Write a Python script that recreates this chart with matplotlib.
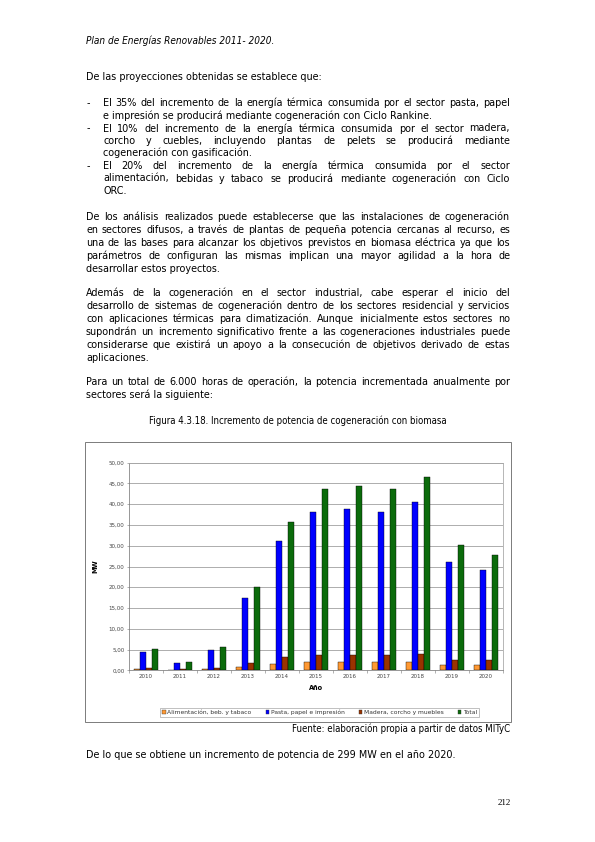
import matplotlib
matplotlib.use('Agg')
import matplotlib.pyplot as plt
from matplotlib.patches import Rectangle, Patch
import numpy as np

W, H = 595, 842

years = ['2010', '2011', '2012', '2013', '2014', '2015', '2016', '2017', '2018', '2019', '2020']
alimentacion = [0.2, 0.1, 0.2, 0.8, 1.5, 1.9, 1.9, 1.9, 2.0, 1.3, 1.2]
pasta = [4.4, 1.8, 4.9, 17.5, 31.2, 38.2, 38.9, 38.2, 40.6, 26.2, 24.2]
madera = [0.5, 0.2, 0.5, 1.8, 3.1, 3.7, 3.8, 3.7, 4.0, 2.6, 2.4]
total = [5.1, 2.1, 5.6, 20.1, 35.8, 43.7, 44.5, 43.7, 46.5, 30.1, 27.7]
series_names = ['Alimentación, beb. y tabaco', 'Pasta, papel e impresión',
                'Madera, corcho y muebles', 'Total']
series_colors = ['#FF9933', '#0000FF', '#993300', '#0B6B0B']

header = 'Plan de Energías Renovables 2011- 2020.'
intro = 'De las proyecciones obtenidas se establece que:'
bullets = [
    ['El 35% del incremento de la energía térmica consumida por el sector pasta, papel',
     'e impresión se producirá mediante cogeneración con Ciclo Rankine.'],
    ['El 10% del incremento de la energía térmica consumida por el sector madera,',
     'corcho y cuebles, incluyendo plantas de pelets se producirá mediante',
     'cogeneración con gasificación.'],
    ['El 20% del incremento de la energía térmica consumida por el sector',
     'alimentación, bebidas y tabaco se producirá mediante cogeneración con Ciclo',
     'ORC.'],
]
paragraphs = [
    ['De los análisis realizados puede establecerse que las instalaciones de cogeneración',
     'en sectores difusos, a través de plantas de pequeña potencia cercanas al recurso, es',
     'una de las bases para alcanzar los objetivos previstos en biomasa eléctrica ya que los',
     'parámetros de configuran las mismas implican una mayor agilidad a la hora de',
     'desarrollar estos proyectos.'],
    ['Además de la cogeneración en el sector industrial, cabe esperar el inicio del',
     'desarrollo de sistemas de cogeneración dentro de los sectores residencial y servicios',
     'con aplicaciones térmicas para climatización. Aunque inicialmente estos sectores no',
     'supondrán un incremento significativo frente a las cogeneraciones industriales puede',
     'considerarse que existirá un apoyo a la consecución de objetivos derivado de estas',
     'aplicaciones.'],
    ['Para un total de 6.000 horas de operación, la potencia incrementada anualmente por',
     'sectores será la siguiente:'],
]
caption = 'Figura 4.3.18. Incremento de potencia de cogeneración con biomasa'
fuente = 'Fuente: elaboración propia a partir de datos MITyC'
conclusion = 'De lo que se obtiene un incremento de potencia de 299 MW en el año 2020.'

FONT = 'DejaVu Sans'
STRETCH = 'condensed'
SIZE = 10.7

fig = plt.figure(figsize=(W / 72, H / 72), dpi=72)
fig.patch.set_facecolor('white')
renderer = fig.canvas.get_renderer()


def fx(x):
    return x / W


def fy(y):
    return 1 - y / H


def txt(x, y, s, size, **kw):
    return fig.text(fx(x), fy(y), s, fontsize=size, family=FONT, fontstretch=STRETCH,
                    va='baseline', **kw)


def line(s, x0, x1, y, last=False, size=SIZE):
    # justified line: spread the words between x0 and x1
    if last:
        txt(x0, y, s, size)
        return
    words = s.split()
    texts = [txt(0, y, w, size) for w in words]
    widths = [t.get_window_extent(renderer).width for t in texts]
    gap = (x1 - x0 - sum(widths)) / (len(words) - 1)
    x = x0
    for t, w in zip(texts, widths):
        t.set_x(fx(x))
        x += w + gap


LEFT, RIGHT = 86, 510

txt(LEFT, 44.5, header, 10, style='italic')
line(intro, LEFT, RIGHT, 80, last=True)

y = 106.5
for b in bullets:
    txt(LEFT + 1, y, '-', SIZE)
    for i, s in enumerate(b):
        line(s, 103, RIGHT, y, last=(i == len(b) - 1))
        y += 12.5

y = 220.5
for p in paragraphs:
    for i, s in enumerate(p):
        line(s, LEFT, RIGHT, y, last=(i == len(p) - 1))
        y += 12.9
    y += 11.2

txt(298, 424, caption, 9.6, ha='center')

# chart frame
fig.patches.append(Rectangle((fx(85), fy(722)), fx(511 - 85), (722 - 442) / H,
                             transform=fig.transFigure, fill=False,
                             edgecolor='#7f7f7f', linewidth=1.0))

ax = fig.add_axes([fx(129), fy(670.3), fx(503 - 129), (670.3 - 462.7) / H])
x = np.arange(len(years))
bw = 0.18
for k, vals in enumerate([alimentacion, pasta, madera, total]):
    ax.bar(x + (k - 1.5) * bw, vals, bw, color=series_colors[k],
           edgecolor='black', linewidth=0.4, zorder=3)

ax.set_xlim(-0.5, len(years) - 0.5)
ax.set_ylim(0, 50)
ax.set_yticks(np.arange(0, 51, 5))
ax.set_yticklabels(['%d,00' % v for v in range(0, 51, 5)], fontsize=5.5, color='#444444')
ax.set_xticks(x)
ax.set_xticklabels(years, fontsize=5.5, color='#444444')
ax.set_xticks(np.arange(-0.5, len(years), 1), minor=True)
ax.tick_params(axis='x', which='major', length=0, pad=4)
ax.tick_params(axis='x', which='minor', length=2.5, color='#808080', width=0.6)
ax.tick_params(axis='y', length=2.5, color='#808080', width=0.6, pad=2)
ax.grid(axis='y', color='#a6a6a6', linewidth=0.9, zorder=0)
for sp in ax.spines.values():
    sp.set_color('#a6a6a6')
    sp.set_linewidth(0.8)
ax.spines['bottom'].set_color('#808080')
ax.spines['left'].set_color('#808080')
ax.set_ylabel('MW', fontsize=6.5, fontweight='bold', labelpad=10)
ax.set_xlabel('Año', fontsize=6.5, fontweight='bold', labelpad=6)

handles = [Patch(facecolor=c, edgecolor='#333333', linewidth=0.4) for c in series_colors]
leg = fig.legend(handles, series_names, loc='center', bbox_to_anchor=(fx(319.5), fy(712.5)),
                 ncol=4, fontsize=6, frameon=True, fancybox=False, edgecolor='#808080',
                 handlelength=0.6, handleheight=0.6, handletextpad=0.2, columnspacing=2.4,
                 borderpad=0.35)
leg.get_frame().set_linewidth(0.6)
for t in leg.get_texts():
    t.set_color('#333333')

txt(RIGHT, 732.5, fuente, 9.6, ha='right')
line(conclusion, LEFT, RIGHT, 757.5, last=True)
fig.text(fx(511), fy(805), '212', fontsize=9, family='Liberation Serif', ha='right', va='baseline')

fig.savefig('out.png', dpi=72, facecolor='white')
